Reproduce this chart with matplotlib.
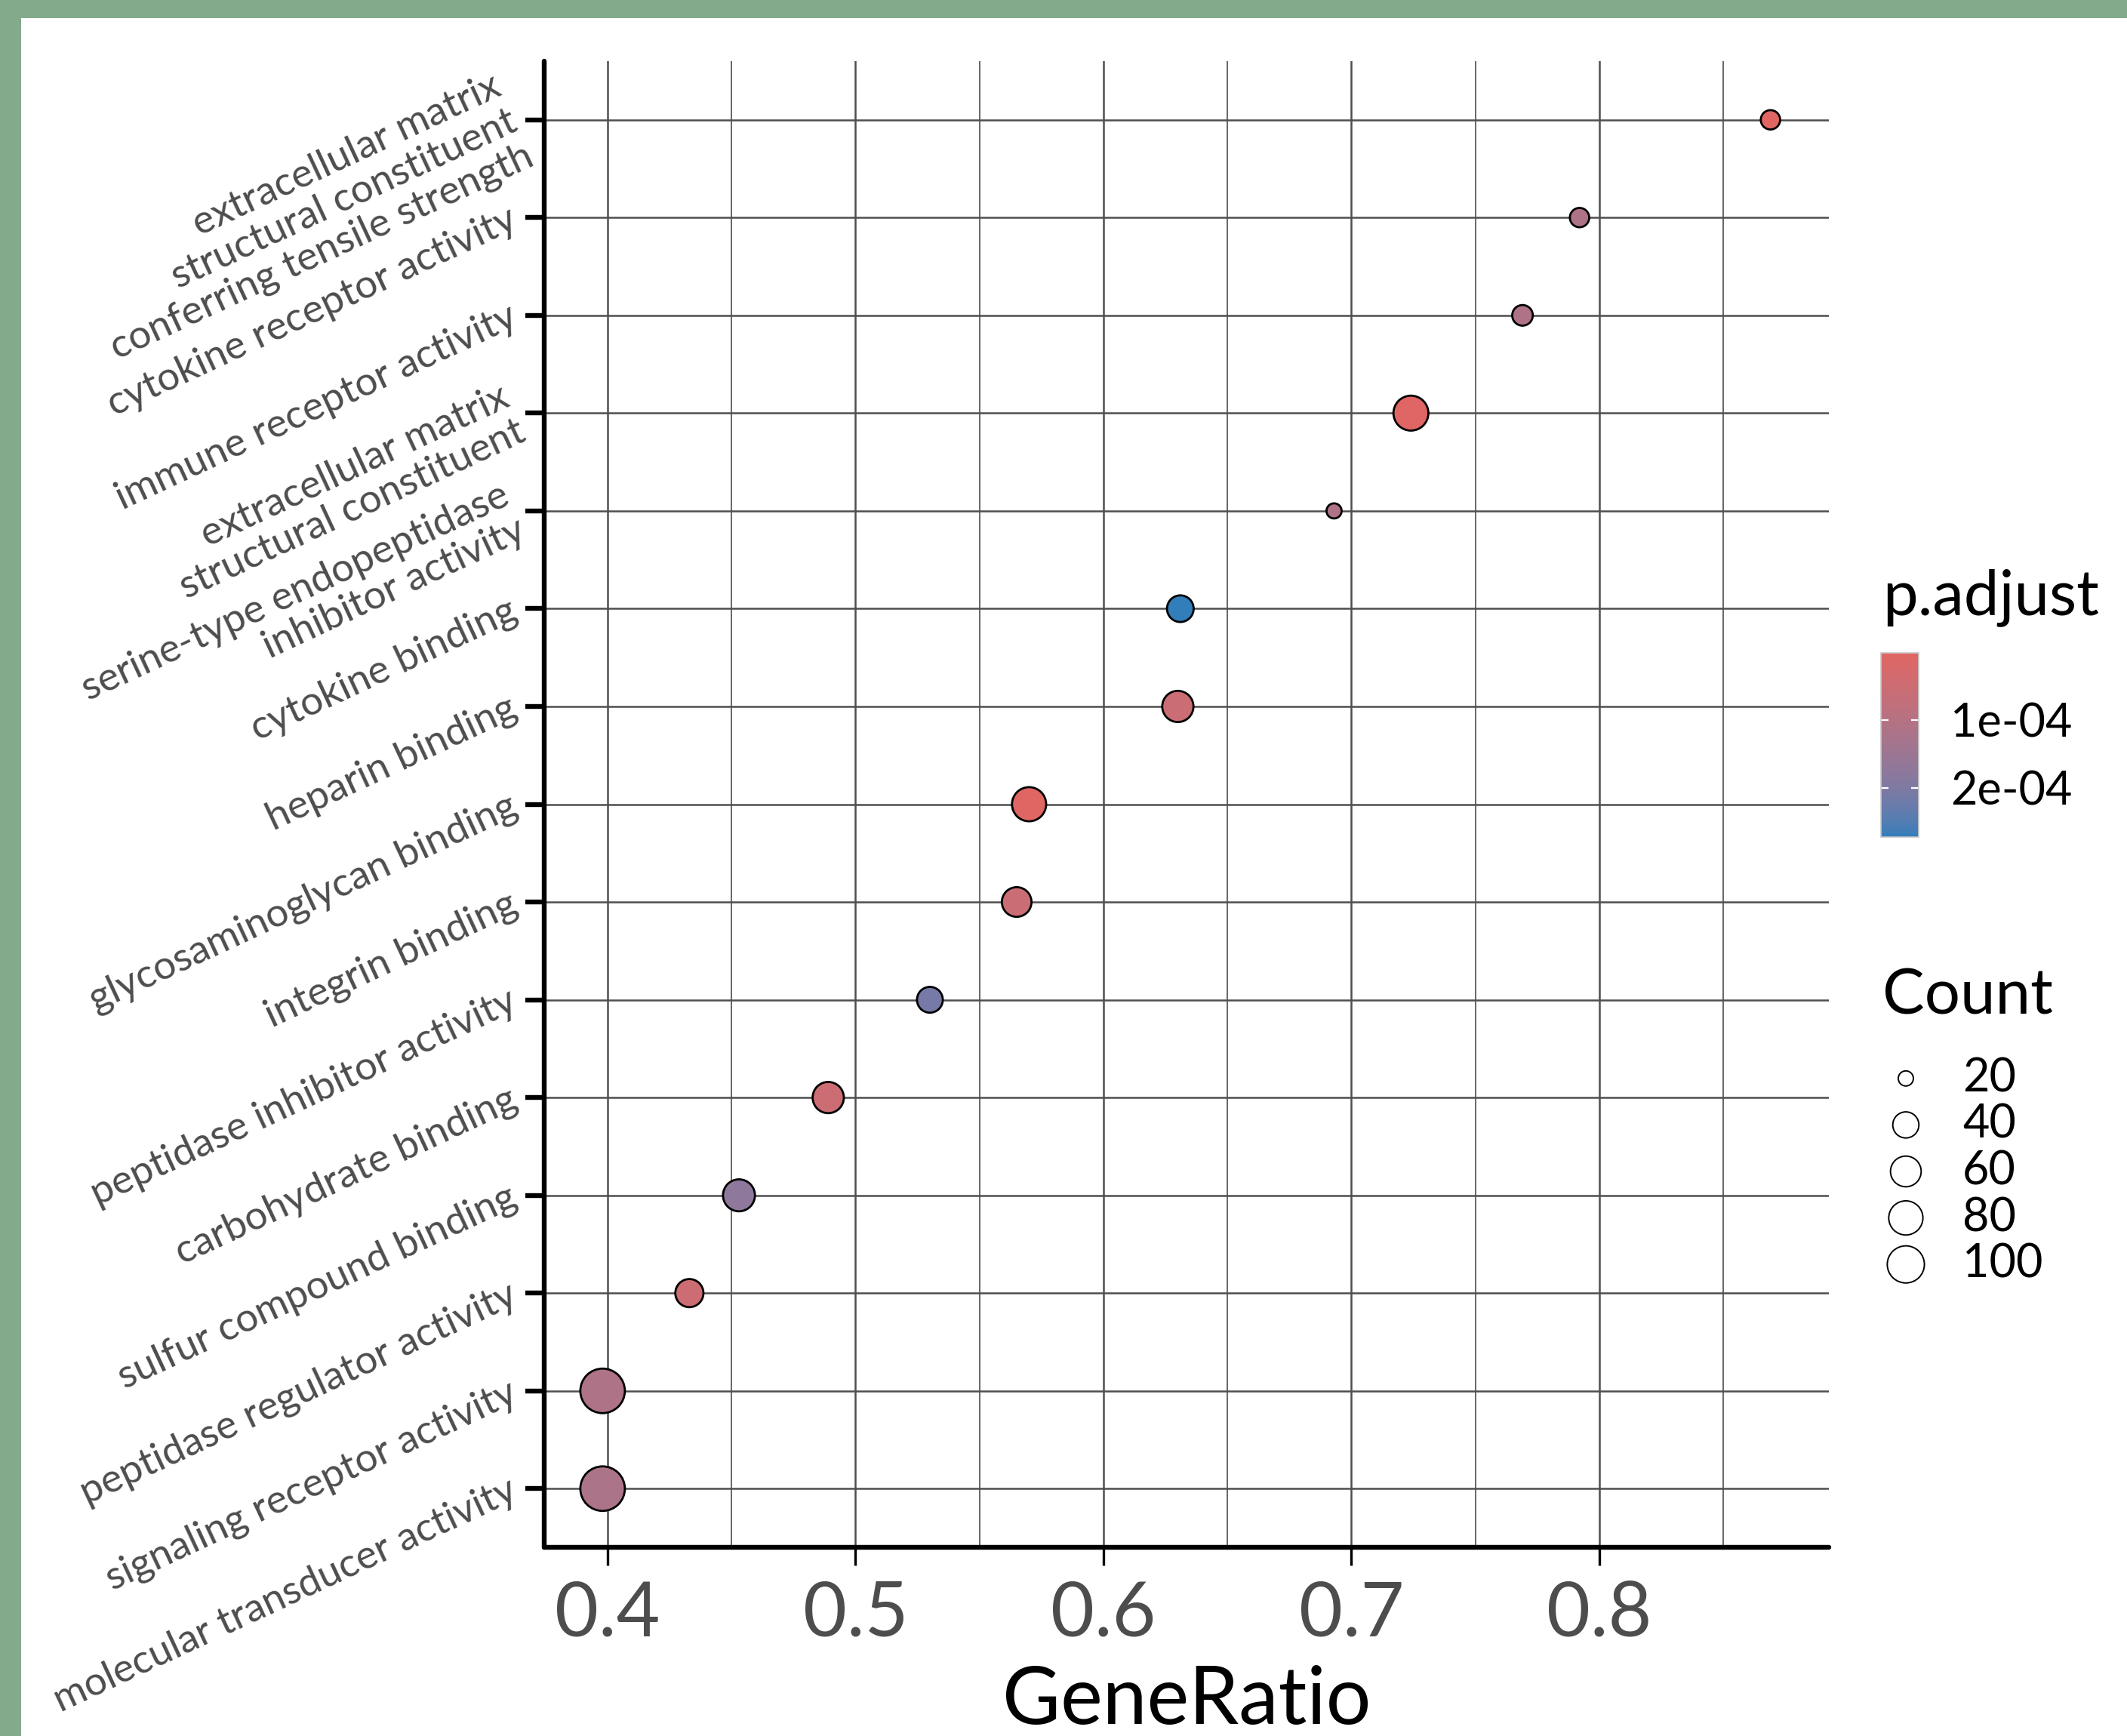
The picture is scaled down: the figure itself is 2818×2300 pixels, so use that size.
import numpy as np
import matplotlib
matplotlib.use("Agg")
import matplotlib.pyplot as plt
import matplotlib.colors as mcolors
from matplotlib.patches import Rectangle

plt.rcParams["font.family"] = ["Lato", "DejaVu Sans"]

# GO terms, top to bottom as in the dot plot
terms = [
    "extracellular matrix\nstructural constituent\nconferring tensile strength",
    "cytokine receptor activity",
    "immune receptor activity",
    "extracellular matrix\nstructural constituent",
    "serine-type endopeptidase\ninhibitor activity",
    "cytokine binding",
    "heparin binding",
    "glycosaminoglycan binding",
    "integrin binding",
    "peptidase inhibitor activity",
    "carbohydrate binding",
    "sulfur compound binding",
    "peptidase regulator activity",
    "signaling receptor activity",
    "molecular transducer activity",
]
gene_ratio = [0.869, 0.792, 0.769, 0.724, 0.693, 0.631, 0.630, 0.570, 0.565,
              0.530, 0.489, 0.453, 0.433, 0.398, 0.398]
counts = [23, 23, 25, 85, 20, 42, 63, 80, 55, 39, 63, 67, 48, 163, 163]
p_adjust = [3e-6, 1.15e-4, 1.15e-4, 5e-6, 1.15e-4, 2.73e-4, 5.5e-5, 1e-6, 5.5e-5,
            2.1e-4, 5e-5, 1.75e-4, 5e-5, 1.15e-4, 1.2e-4]
size_breaks = [20, 40, 60, 80, 100]
cbar_ticks = [1e-4, 2e-4]
cbar_ticklabels = ["1e-04", "2e-04"]

W, H, DPI = 2818, 2300, 200
LOW, HIGH = "#e06663", "#327eba"
GREEN = "#84aa8c"


# ---- colour ramp interpolated in CIELAB (like ggplot's gradient) ----
WHITE = np.array([0.95047, 1.0, 1.08883])
M = np.array([[0.4124, 0.3576, 0.1805], [0.2126, 0.7152, 0.0722], [0.0193, 0.1192, 0.9505]])


def to_lab(c):
    rgb = np.array(mcolors.to_rgb(c))
    lin = np.where(rgb <= 0.04045, rgb / 12.92, ((rgb + 0.055) / 1.055) ** 2.4)
    xyz = M @ lin / WHITE
    f = np.where(xyz > (6 / 29) ** 3, np.cbrt(xyz), xyz / (3 * (6 / 29) ** 2) + 4 / 29)
    return np.array([116 * f[1] - 16, 500 * (f[0] - f[1]), 200 * (f[1] - f[2])])


def from_lab(lab):
    fy = (lab[0] + 16) / 116
    f = np.array([fy + lab[1] / 500, fy, fy - lab[2] / 200])
    xyz = np.where(f > 6 / 29, f ** 3, 3 * (6 / 29) ** 2 * (f - 4 / 29)) * WHITE
    lin = np.linalg.inv(M) @ xyz
    lin = np.clip(lin, 0, None)
    rgb = np.where(lin <= 0.0031308, 12.92 * lin, 1.055 * lin ** (1 / 2.4) - 0.055)
    return np.clip(rgb, 0, 1)


la, lb = to_lab(LOW), to_lab(HIGH)
cmap = mcolors.ListedColormap([from_lab(la + (lb - la) * t) for t in np.linspace(0, 1, 256)])
norm = mcolors.Normalize(vmin=min(p_adjust), vmax=max(p_adjust))

# ---- size scale (area palette, diameters in px) ----
cmin, cmax = min(counts), max(counts)


def marker_area(c, d0=20.0, d1=59.0):
    d_px = d0 + (d1 - d0) * np.sqrt((np.asarray(c, float) - cmin) / (cmax - cmin))
    return (d_px * 72 / DPI) ** 2


def fx(px):
    return px / W


def fy(py):
    return 1 - py / H


fig = plt.figure(figsize=(W / DPI, H / DPI), dpi=DPI)
fig.patch.set_facecolor("white")
# green frame strips on the left and top edges
fig.patches.append(Rectangle((0, 0), fx(28), 1, transform=fig.transFigure,
                             facecolor=GREEN, edgecolor="none"))
fig.patches.append(Rectangle((0, fy(24)), 1, 1 - fy(24), transform=fig.transFigure,
                             facecolor=GREEN, edgecolor="none"))

ax = fig.add_axes([fx(721), fy(2050), fx(2423) - fx(721), fy(81) - fy(2050)])
ax.set_facecolor("white")
n = len(terms)
yy = np.arange(n, 0, -1)
sc = ax.scatter(gene_ratio, yy, s=marker_area(counts), c=p_adjust, cmap=cmap, norm=norm,
                edgecolors="black", linewidths=1.0, zorder=3)

span = max(gene_ratio) - min(gene_ratio)
ax.set_xlim(min(gene_ratio) - 0.05 * span, max(gene_ratio) + 0.05 * span)
ax.set_ylim(0.4, n + 0.6)
ax.set_xticks([0.4, 0.5, 0.6, 0.7, 0.8])
ax.set_xticks([0.45, 0.55, 0.65, 0.75, 0.85], minor=True)
ax.set_yticks(yy)
ax.set_yticklabels(terms, rotation=25, ha="right", va="center", rotation_mode="anchor",
                   fontsize=19, color="#4d4d4d", linespacing=1.1)
ax.grid(which="major", color="#4f4f4f", linewidth=0.9)
ax.grid(which="minor", axis="x", color="#666666", linewidth=0.7)
ax.set_axisbelow(True)
for s in ["top", "right"]:
    ax.spines[s].set_visible(False)
for s in ["left", "bottom"]:
    ax.spines[s].set_linewidth(2.3)
    ax.spines[s].set_capstyle("round")
ax.tick_params(axis="y", length=9, width=2.3, pad=5)
ax.tick_params(axis="x", which="major", length=8.5, width=1.2, pad=7,
               labelsize=36, labelcolor="#4d4d4d")
ax.tick_params(axis="x", which="minor", length=0)
ax.set_xlabel("GeneRatio", fontsize=38, labelpad=8)

# ---- colour bar legend ----
fig.text(fx(2494), fy(792), "p.adjust", fontsize=30, va="center", ha="left")
cax = fig.add_axes([fx(2492), fy(1109), fx(2542) - fx(2492), fy(865) - fy(1109)])
cb = fig.colorbar(sc, cax=cax)
cax.invert_yaxis()
cb.set_ticks(cbar_ticks)
cb.set_ticklabels(cbar_ticklabels)
cb.minorticks_off()
cb.outline.set_edgecolor("#c8c8c8")
cb.outline.set_linewidth(0.6)
cax.tick_params(direction="in", length=3.6, width=0.8, color="white", left=True, right=True,
                labelleft=False, labelright=True, labelsize=22, pad=15)

# ---- size legend ----
fig.text(fx(2494), fy(1320), "Count", fontsize=30, va="center", ha="left")
lax = fig.add_axes([fx(2470), fy(1706), fx(2818) - fx(2470), fy(1398) - fy(1706)])
lax.set_xlim(0, 1)
lax.set_ylim(len(size_breaks) - 0.5, -0.5)
lax.axis("off")
rows = np.arange(len(size_breaks))
lax.scatter(np.full(len(rows), 0.158), rows, s=marker_area(size_breaks),
            facecolors="white", edgecolors="black", linewidths=0.7)
for r, b in zip(rows, size_breaks):
    lax.text(0.374, r, str(b), fontsize=22, va="center", ha="left")

fig.savefig("out.png", dpi=DPI)
